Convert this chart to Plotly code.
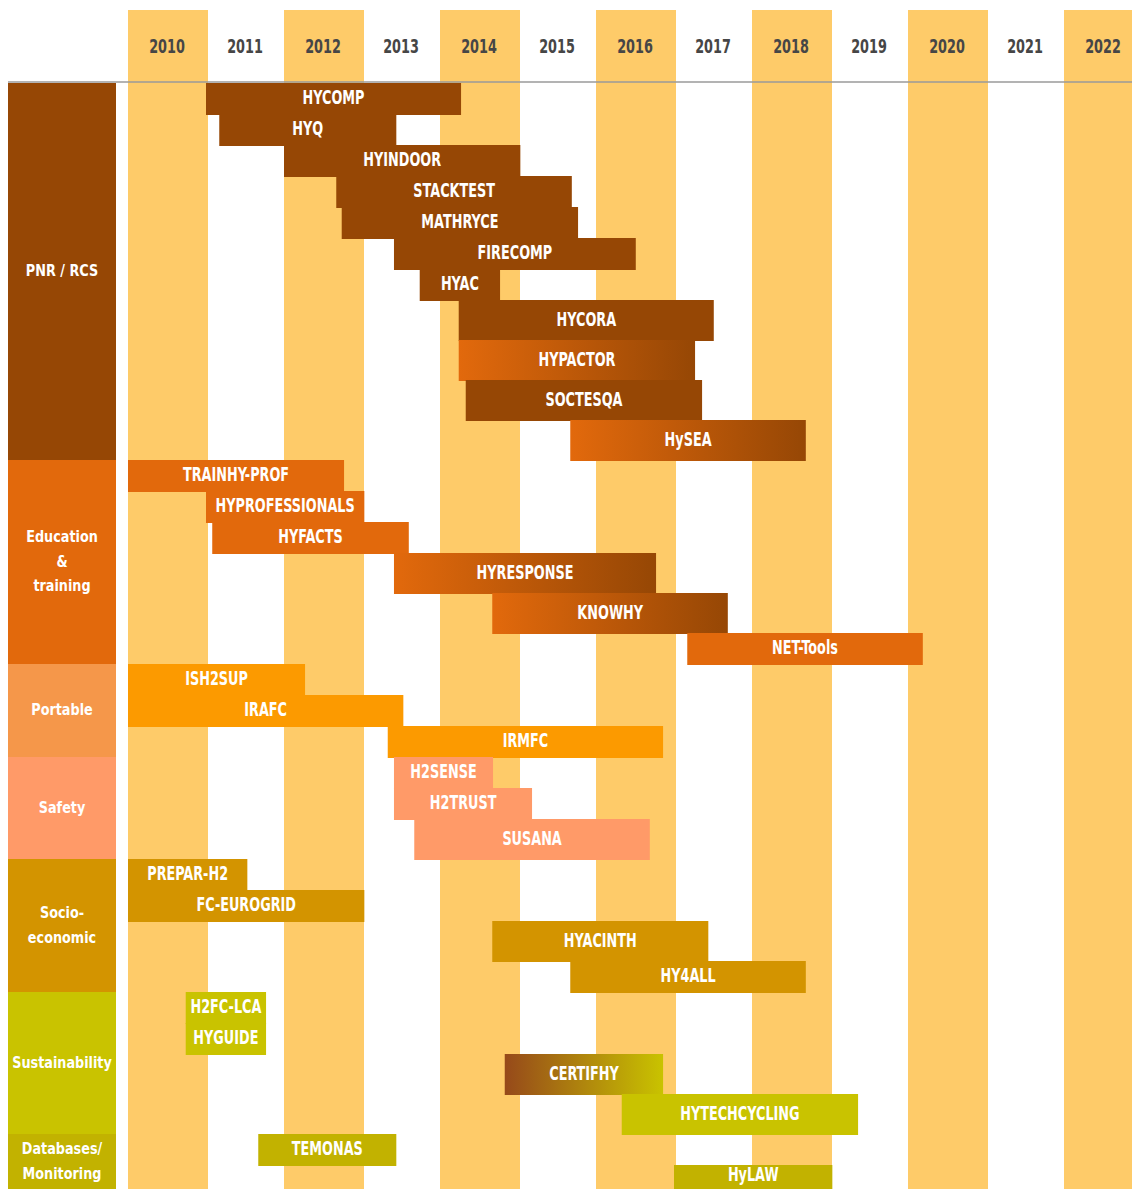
import plotly.graph_objects as go

# ---- data -------------------------------------------------------------
years = list(range(2010, 2023))

groups = ["PNR / RCS", "Education<br>&<br>training", "Portable", "Safety",
          "Socio-<br>economic", "Sustainability", "Databases/<br>Monitoring"]

projects = ["HYCOMP", "HYQ", "HYINDOOR", "STACKTEST", "MATHRYCE", "FIRECOMP", "HYAC",
            "HYCORA", "HYPACTOR", "SOCTESQA", "HySEA",
            "TRAINHY-PROF", "HYPROFESSIONALS", "HYFACTS", "HYRESPONSE", "KNOWHY", "NET-Tools",
            "ISH2SUP", "IRAFC", "IRMFC",
            "H2SENSE", "H2TRUST", "SUSANA",
            "PREPAR-H2", "FC-EUROGRID", "HYACINTH", "HY4ALL",
            "H2FC-LCA", "HYGUIDE", "CERTIFHY", "HYTECHCYCLING",
            "TEMONAS", "HyLAW"]

project_group = (["PNR / RCS"] * 11 + ["Education<br>&<br>training"] * 6 + ["Portable"] * 3
                 + ["Safety"] * 3 + ["Socio-<br>economic"] * 4 + ["Sustainability"] * 4
                 + ["Databases/<br>Monitoring"] * 2)

# project start / end in decimal years
start = [2011.00, 2011.17, 2012.00, 2012.67, 2012.74, 2013.41, 2013.74,
         2014.24, 2014.24, 2014.33, 2015.67,
         2010.00, 2011.00, 2011.08, 2013.41, 2014.67, 2017.17,
         2010.00, 2010.00, 2013.33,
         2013.41, 2013.41, 2013.67,
         2010.00, 2010.00, 2014.67, 2015.67,
         2010.74, 2010.74, 2014.83, 2016.33,
         2011.67, 2017.00]
end = [2014.27, 2013.44, 2015.03, 2015.69, 2015.77, 2016.51, 2014.77,
       2017.51, 2017.27, 2017.36, 2018.69,
       2012.77, 2013.03, 2013.60, 2016.77, 2017.69, 2020.19,
       2012.27, 2013.53, 2016.86,
       2014.68, 2015.18, 2016.69,
       2011.53, 2013.03, 2017.44, 2018.69,
       2011.77, 2011.77, 2016.86, 2019.36,
       2013.44, 2019.03]

# ---- style ------------------------------------------------------------
BROWN = "#964705"
ORANGE = "#E2690C"
box_colors = {"PNR / RCS": BROWN, "Education<br>&<br>training": ORANGE,
              "Portable": "#F5974A", "Safety": "#FF9A68", "Socio-<br>economic": "#D39400",
              "Sustainability": "#C9C300", "Databases/<br>Monitoring": "#C2B200"}
bar_colors = dict(box_colors, Portable="#FC9A00")
gradients = {"HYPACTOR": (ORANGE, BROWN), "HySEA": (ORANGE, BROWN),
             "HYRESPONSE": (ORANGE, BROWN), "KNOWHY": (ORANGE, BROWN),
             "CERTIFHY": ("#96491A", "#C9C300")}
tall_rows = {"HYCORA", "HYPACTOR", "SOCTESQA", "HySEA", "HYRESPONSE", "KNOWHY",
             "SUSANA", "HYACINTH", "CERTIFHY", "HYTECHCYCLING"}
BAND = "#FECB69"
FONT = "DejaVu Sans Condensed, DejaVu Sans, sans-serif"

W, H = 1132, 1189
PX0, YEAR_PX = 128, 78          # pixel of 2010 and pixels per year
TOP = 83
ROW, TALL = 31, 40
LINE_GAP = 24.5


def px_to_year(px):
    return 2010 + (px - PX0) / YEAR_PX


def label_font(size, color="white"):
    return dict(family=FONT, size=size, color=color, weight="bold")


fig = go.Figure()

# year bands (even years)
for yr in years:
    if yr % 2 == 0:
        fig.add_shape(type="rect", x0=yr, x1=yr + 80 / YEAR_PX, y0=10, y1=H + 5,
                      fillcolor=BAND, line_width=0, layer="below")

# header rule
fig.add_shape(type="line", x0=px_to_year(8), x1=px_to_year(W + 5), y0=82, y1=82,
              line=dict(color="#9a9a9a", width=1.5))

# rows
tops, bots = [], []
y = TOP
for p in projects:
    h = TALL if p in tall_rows else ROW
    tops.append(y)
    bots.append(y + h)
    y += h

# group boxes
gx0, gx1 = px_to_year(8), px_to_year(116)
g_text, g_y = [], []
for g in groups:
    idx = [i for i, pg in enumerate(project_group) if pg == g]
    t, b = tops[idx[0]], min(bots[idx[-1]], H)
    fig.add_trace(go.Scatter(x=[gx0, gx1, gx1, gx0, gx0], y=[t, t, b, b, t],
                             fill="toself", mode="none", fillcolor=box_colors[g],
                             hoverinfo="skip", showlegend=False))
    lines = g.split("<br>")
    mid = (t + b) / 2 + 1
    for k, ln in enumerate(lines):
        g_text.append(ln)
        g_y.append(mid + (k - (len(lines) - 1) / 2) * LINE_GAP)

# project bars
for i, p in enumerate(projects):
    s, e, t, b = start[i], end[i], tops[i], bots[i] + 1
    kw = dict(fillcolor=bar_colors[project_group[i]])
    if p in gradients:
        c0, c1 = gradients[p]
        kw = dict(fillgradient=dict(type="horizontal", colorscale=[[0, c0], [1, c1]]))
    fig.add_trace(go.Scatter(x=[s, e, e, s, s], y=[t, t, b, b, t], fill="toself",
                             mode="none", hoverinfo="skip", showlegend=False, **kw))

# labels (last row runs off the page, keep its label just inside)
fig.add_trace(go.Scatter(
    x=[(s + e) / 2 for s, e in zip(start, end)],
    y=[min((t + b) / 2 + 1, H - 13) for t, b in zip(tops, bots)],
    text=projects, mode="text", hoverinfo="skip", showlegend=False,
    textfont=label_font(19)))

fig.add_trace(go.Scatter(
    x=[(gx0 + gx1) / 2] * len(g_text), y=g_y, text=g_text, mode="text",
    hoverinfo="skip", showlegend=False, textfont=label_font(16)))

fig.add_trace(go.Scatter(
    x=[yr + 0.5 for yr in years], y=[48] * len(years), text=[str(yr) for yr in years],
    mode="text", hoverinfo="skip", showlegend=False,
    textfont=label_font(19, "#464646")))

fig.update_layout(
    width=W, height=H, margin=dict(l=0, r=0, t=0, b=0),
    paper_bgcolor="white", plot_bgcolor="white", showlegend=False,
    xaxis=dict(range=[px_to_year(0), px_to_year(W)], visible=False, fixedrange=True),
    yaxis=dict(range=[H, 0], visible=False, fixedrange=True),
)

# the original uses a narrow DIN-like face: squeeze the condensed font a bit more
css = (".textpoint text{transform-box:fill-box;transform-origin:center;transform:scaleX(0.75);}"
       ".textpoint text[style*='font-size: 16px']{transform:scaleX(0.89);}")
post = ("document.body.style.margin='0';document.body.style.overflow='hidden';"
        "var st=document.createElement('style');st.textContent=\"" + css + "\";"
        "document.head.appendChild(st);")

fig.write_html("out.html", config={"displayModeBar": False}, post_script=post)
